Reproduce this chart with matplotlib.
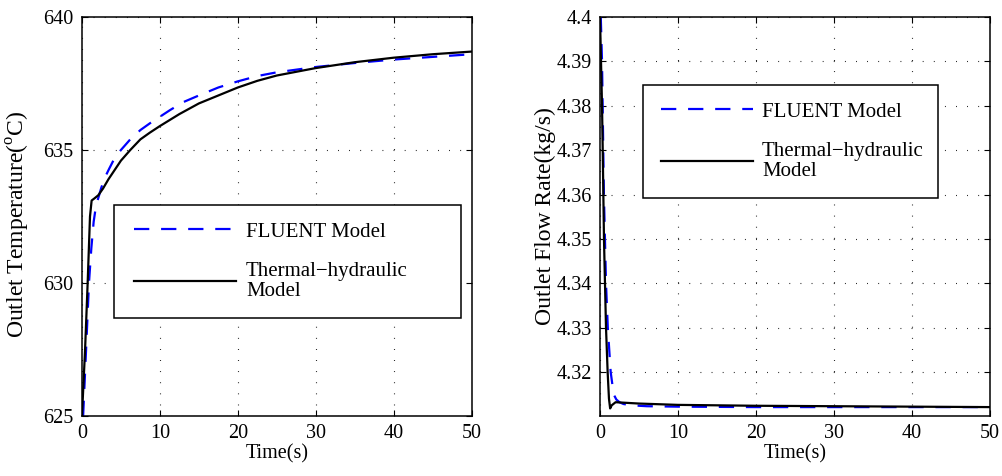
import numpy as np
import matplotlib
matplotlib.use('Agg')
import matplotlib.pyplot as plt
from matplotlib.patches import Rectangle

plt.rcParams['font.family'] = 'Liberation Serif'
plt.rcParams['mathtext.fontset'] = 'custom'
plt.rcParams['mathtext.rm'] = 'Liberation Serif'
plt.rcParams['lines.scale_dashes'] = False

# outlet temperature (left panel)
t_th_T = [0, 0.4, 0.73, 1.03, 1.24, 1.6, 2.1, 2.7, 3.4, 4.2, 5, 6.2, 7.5, 8.7, 10, 12.5, 15, 17.5, 20, 22.5,
          25, 30, 35, 40, 45, 50]
T_th = [625, 627.5, 630, 632.5, 633.1, 633.18, 633.3, 633.55, 633.9, 634.25, 634.6, 635.0, 635.4, 635.65, 635.9,
        636.35, 636.75, 637.05, 637.35, 637.6, 637.8, 638.08, 638.3, 638.47, 638.6, 638.7]
t_fl_T = [0.15, 0.5, 0.9, 1.2, 1.5, 1.75, 2.0, 2.5, 3.0, 3.5, 4.2, 5, 6.2, 7.5, 8.7, 10, 11.3, 13, 15, 17.5, 20,
          22.5, 25, 30, 35, 40, 45, 50]
T_fl = [625, 627.3, 630, 631.3, 632.3, 632.8, 633.1, 633.6, 634.0, 634.3, 634.7, 635.0, 635.4, 635.75, 636.0,
        636.25, 636.5, 636.8, 637.05, 637.35, 637.58, 637.78, 637.92, 638.12, 638.27, 638.4, 638.5, 638.6]

# outlet flow rate (right panel)
t_th_F = [0, 0.26, 0.35, 0.51, 0.77, 0.98, 1.15, 1.3, 1.5, 2.0, 3, 5, 10, 20, 30, 40, 50]
F_th = [4.4, 4.38, 4.37, 4.35, 4.33, 4.32, 4.314, 4.3118, 4.3125, 4.3132, 4.3131, 4.3129, 4.3126, 4.3124,
        4.3123, 4.3122, 4.3121]
t_fl_F = [0.1, 0.26, 0.5, 0.77, 1.0, 1.37, 1.6, 1.8, 2.1, 2.5, 3, 4, 6, 10, 20, 30, 40, 50]
F_fl = [4.4, 4.39, 4.36, 4.34, 4.33, 4.32, 4.317, 4.3148, 4.3138, 4.3132, 4.3128, 4.3125, 4.3123, 4.3122,
        4.3121, 4.3121, 4.3121, 4.3121]

lbl_fl = 'FLUENT Model'
lbl_th = 'Thermal\u2212hydraulic\nModel'

fig = plt.figure(figsize=(10.02, 4.76), dpi=100)
ax1 = fig.add_axes([0.0818, 0.1261, 0.3889, 0.8382])
ax2 = fig.add_axes([0.5988, 0.1261, 0.3892, 0.8382])

fs = 14.5
fs_y = 17  # the original figure is stretched vertically, so the y labels run longer

def style(ax):
    ax.grid(True, color='k', linestyle=(0, (0.6, 7.4)), linewidth=0.8)
    ax.tick_params(direction='in', length=4, width=0.8, top=True, right=True, labelsize=fs, pad=6)
    for s in ax.spines.values():
        s.set_linewidth(1.1)
    ax.set_xlim(0, 50)
    ax.set_xticks([0, 10, 20, 30, 40, 50])
    ax.set_xlabel('Time(s)', fontsize=fs, labelpad=1)

for ax, tf, yf, tt, yt in [(ax1, t_fl_T, T_fl, t_th_T, T_th), (ax2, t_fl_F, F_fl, t_th_F, F_th)]:
    ax.plot(tf, yf, color='#0000ff', linewidth=1.6, dashes=(11, 8.5), label=lbl_fl)
    ax.plot(tt, yt, color='k', linewidth=1.6, label=lbl_th)
    style(ax)

ax1.set_ylim(625, 640)
ax1.set_yticks([625, 630, 635, 640])
ax1.set_ylabel('Outlet Temperature($^{\\rm o}$C)', fontsize=fs_y)
ax1.yaxis.set_label_coords(-0.128, 0.48)

ax2.set_ylim(4.3101, 4.4)
ax2.set_yticks([4.32, 4.33, 4.34, 4.35, 4.36, 4.37, 4.38, 4.39, 4.4])
ax2.set_yticklabels(['4.32', '4.33', '4.34', '4.35', '4.36', '4.37', '4.38', '4.39', '4.4'])
ax2.set_ylabel('Outlet Flow Rate(kg/s)', fontsize=fs_y)
ax2.yaxis.set_label_coords(-0.113, 0.5)

# legend boxes: (box x0, y0, x1, y1), handle offset, handle length
for ax, (x0, y0, x1, y1), (dx, dy), hl, tp in [(ax1, (0.0821, 0.2456, 0.9726, 0.5288), (0.0513, 0.043), 4.9, 0.48),
                                               (ax2, (0.1103, 0.5464, 0.8667, 0.8296), (0.0462, 0.043), 4.4, 0.45)]:
    ax.add_patch(Rectangle((x0, y0), x1 - x0, y1 - y0, transform=ax.transAxes, facecolor='white',
                           edgecolor='k', linewidth=1.1, zorder=5))
    leg = ax.legend(loc='upper left', bbox_to_anchor=(x0 + dx, y1 - dy), borderaxespad=0, frameon=False,
                    fontsize=15, handlelength=hl, handletextpad=tp, borderpad=0, labelspacing=0.95)
    for txt in leg.get_texts():
        txt.set_linespacing(1.1)
    leg.set_zorder(6)

fig.savefig('out.png', dpi=100)
